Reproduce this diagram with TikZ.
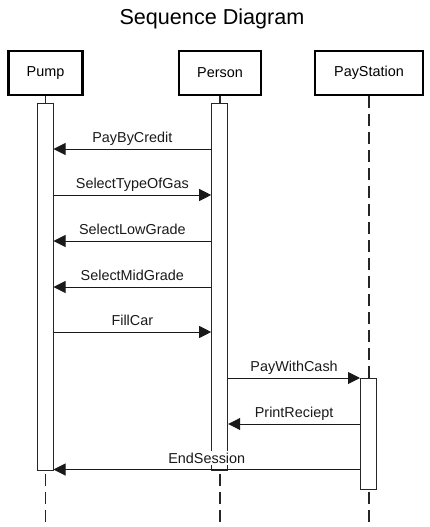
\documentclass[tikz,border=0pt]{standalone}
\usepackage{fontspec}
\setmainfont{Liberation Sans}
\usetikzlibrary{arrows.meta}
\begin{document}
\begin{tikzpicture}
		[	x=1pt,y=-1pt,
		actor/.style={rectangle,draw=black,line width=2.6pt,fill=white,minimum height=44pt,inner sep=0pt,font=\fontsize{14.4}{16}\selectfont},
		bar/.style={rectangle,draw=black!85,line width=1pt,fill=white,minimum width=16pt,inner sep=0pt},
		life/.style={draw=black!85,line width=1.1pt,dash pattern=on 12pt off 6pt},
		msg/.style={-{Triangle[length=12pt,width=12pt]},line width=1pt,black!90},
		lbl/.style={anchor=base,yshift=6.3pt,inner sep=1pt,font=\fontsize{14.4}{16}\selectfont}
		]
		\useasboundingbox (0,0) rectangle (429,527);
		\node[anchor=base,font=\fontsize{21.6}{24}\selectfont] (title) at (212,25){Sequence Diagram};

		\node[actor,minimum width=74pt] (pump) at (45.5,73){Pump};
		\node[actor,minimum width=82pt] (person) at (220,73){Person};
		\node[actor,minimum width=108pt] (paystation) at (369,73){PayStation};

		\coordinate (bot) at (0,527);
		\draw[life] (pump.south) -- (pump.south |- bot);
		\draw[life] (person.south) -- (person.south |- bot);
		\draw[life] (paystation.south) -- (paystation.south |- bot);

		\node[bar,minimum height=367pt] (pumpbar) at (45,286.5){};
		\node[bar,minimum height=367pt] (personbar) at (219.7,286.5){};
		\node[bar,minimum height=111pt] (paybar) at (368.5,433.5){};

\coordinate (m1) at (0,149);
\coordinate (m2) at (0,195);
\coordinate (m3) at (0,241);
\coordinate (m4) at (0,287);
\coordinate (m5) at (0,332);
\coordinate (m6) at (0,378);
\coordinate (m7) at (0,424);
\coordinate (m8) at (0,469.5);
		\draw[msg] (personbar.west |- m1) -- node[lbl]{PayByCredit} (pumpbar.east |- m1);
		\draw[msg] (pumpbar.east |- m2) -- node[lbl]{SelectTypeOfGas} (personbar.west |- m2);
		\draw[msg] (personbar.west |- m3) -- node[lbl]{SelectLowGrade} (pumpbar.east |- m3);
		\draw[msg] (personbar.west |- m4) -- node[lbl]{SelectMidGrade} (pumpbar.east |- m4);
		\draw[msg] (pumpbar.east |- m5) -- node[lbl]{FillCar} (personbar.west |- m5);
		\draw[msg] (personbar.east |- m6) -- node[lbl]{PayWithCash} (paybar.west |- m6);
		\draw[msg] (paybar.west |- m7) -- node[lbl]{PrintReciept} (personbar.east |- m7);
		\draw[msg] (paybar.west |- m8) -- node[lbl,fill=white,inner ysep=2pt]{EndSession} (pumpbar.east |- m8);
	\end{tikzpicture}
\end{document}
